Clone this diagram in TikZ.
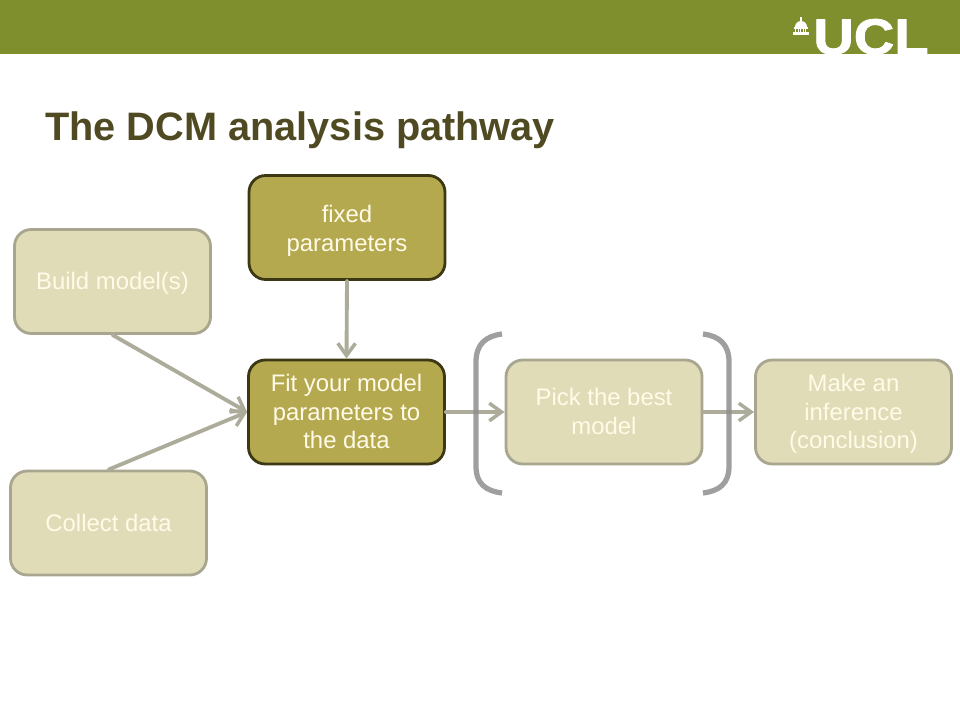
\documentclass[tikz,border=0pt]{standalone}
\usepackage{fontspec}
\setmainfont{Liberation Sans}
\newfontfamily\uclfont[BoldFeatures={FakeBold=1.6}]{Liberation Sans}
\usepackage{xcolor}
\usetikzlibrary{arrows.meta}
\definecolor{uclband}{HTML}{7F8F2D}
\definecolor{titlecol}{HTML}{4F4A22}
\definecolor{palefill}{HTML}{E0DCB8}
\definecolor{paleline}{HTML}{A8A68E}
\definecolor{darkfill}{HTML}{B5A950}
\definecolor{darkline}{HTML}{3C3814}
\definecolor{boxtext}{HTML}{FFFBE8}
\definecolor{arrowcol}{HTML}{ADAC9A}
\definecolor{bracketcol}{HTML}{8E8E8E}
\newcommand{\lift}{\rule{0pt}{14.2pt}}
\tikzset{
  box/.style={rounded corners=9.5pt, minimum width=196*0.02cm, minimum height=104*0.02cm,
    align=center, text=boxtext, inner sep=1pt, font=\fontsize{13.6}{16.4}\selectfont,
    execute at end node=\strut},
  palebox/.style={box, draw=paleline, fill=palefill, line width=1.6pt},
  darkbox/.style={box, draw=darkline, fill=darkfill, line width=1.6pt},
  link/.style={-{Straight Barb[length=7pt,width=10pt,line width=2pt]}, draw=arrowcol, line width=2.2pt},
  bracket/.style={draw=bracketcol, line width=3pt, opacity=.85, line cap=butt},
}
\begin{document}
\begin{tikzpicture}[x=.02cm, y=-.02cm, line cap=round, line join=round]
\useasboundingbox (0,0) rectangle (960,720);

% Banner
\fill[uclband] (0,0) rectangle (960,54);
\node[anchor=base west, inner sep=0pt, text=white, font=\uclfont\fontsize{28.5}{28.5}\selectfont\bfseries] (ucl) at (813,54) {\scalebox{1.12}[1]{UCL}};

% Dome
\fill[white] (795,27) arc[start angle=180, end angle=360, radius=6] -- cycle;
\fill[white] (800,22) rectangle (802,17);
\fill[white] (794,27) rectangle (808,29);
\foreach \x in {795,797.5,...,805} \fill[white] (\x,29) rectangle ++(1.4,3);
\fill[white] (793,32) rectangle (809,34.5);

% Titolo
\node[anchor=base west, inner sep=0pt, text=titlecol, font=\fontsize{22.6}{26}\selectfont\bfseries] (title) at (45,140) {The DCM analysis pathway};

% Riquadri
\node[darkbox] (fixed) at (347,227.5) {\rule{0pt}{16.1pt}fixed\\parameters};
\node[palebox] (build) at (112.5,281.5) {\lift Build model(s)};
\node[palebox] (collect) at (108.5,523) {\lift Collect data};
\node[darkbox] (fit) at (346.5,412) {\lift Fit your model\\parameters to\\the data};
\node[palebox] (pick) at (604,412) {\lift Pick the best\\model};
\node[palebox] (make) at (853.5,412) {\lift Make an\\inference\\(conclusion)};

% Frecce
\draw[link] (fixed.south) -- (fit.north);
\draw[link] (build.south) -- (fit.west);
\draw[link] (collect.north) -- (fit.west);
\draw[link] (fit.east) -- (pick.west);
\draw[link] (pick.east) -- (make.west);

% Parentesi
\draw[bracket] (502,334) .. controls (486,336) and (476,344) .. (476,362) -- (476,466) .. controls (476,484) and (486,491) .. (502,493);
\draw[bracket] (703,334) .. controls (719,336) and (729,344) .. (729,362) -- (729,466) .. controls (729,484) and (719,491) .. (703,493);

\end{tikzpicture}
\end{document}
